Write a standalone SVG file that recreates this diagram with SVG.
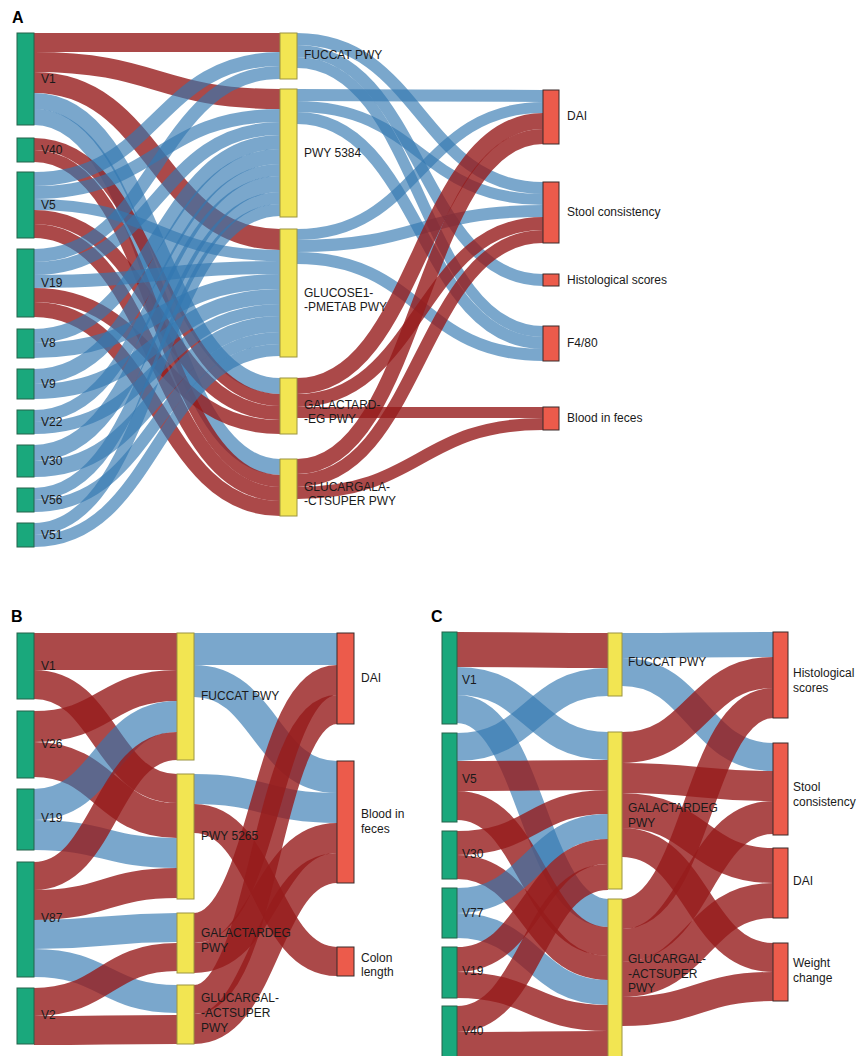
<svg xmlns="http://www.w3.org/2000/svg" width="858" height="1056" viewBox="0 0 858 1056">
<style>
.r{fill:none;stroke:#961c1c;stroke-opacity:0.8}
.b{fill:none;stroke:#3378b1;stroke-opacity:0.65}
.g{fill:#1aa87c;stroke:#24634a;stroke-width:1}
.y{fill:#f2e552;stroke:#9c9440;stroke-width:1}
.o{fill:#ec5b4b;stroke:#3a2a2a;stroke-width:1}
text{font-family:"Liberation Sans",Arial,sans-serif;font-size:12px;fill:#1a1a1a}
.p{font-size:16px;font-weight:bold;fill:#000}
</style>
<rect width="858" height="1056" fill="#fff"/>
<text class="p" x="12" y="23">A</text>
<text class="p" x="11" y="622">B</text>
<text class="p" x="431" y="622">C</text>
<g id="connectors">
<!-- Panel A left to middle -->
<path class="r" stroke-width="19" d="M34,42.5C157,42.5 157,42.5 280,42.5"/>
<path class="r" stroke-width="20" d="M34,62C157,62 157,99 280,99"/>
<path class="r" stroke-width="21" d="M34,82.5C157,82.5 157,239.5 280,239.5"/>
<path class="b" stroke-width="16" d="M34,101C157,101 157,386 280,386"/>
<path class="b" stroke-width="16" d="M34,117C157,117 157,467 280,467"/>
<path class="r" stroke-width="12" d="M34,144C157,144 157,400 280,400"/>
<path class="r" stroke-width="12" d="M34,156C157,156 157,481 280,481"/>
<path class="b" stroke-width="14" d="M34,179C157,179 157,59 280,59"/>
<path class="b" stroke-width="13" d="M34,192.5C157,192.5 157,115.5 280,115.5"/>
<path class="b" stroke-width="11" d="M34,204.5C157,204.5 157,255.5 280,255.5"/>
<path class="r" stroke-width="14" d="M34,217C157,217 157,413 280,413"/>
<path class="r" stroke-width="14" d="M34,231C157,231 157,494 280,494"/>
<path class="b" stroke-width="13" d="M34,255.5C157,255.5 157,72.5 280,72.5"/>
<path class="b" stroke-width="13" d="M34,268.5C157,268.5 157,128.5 280,128.5"/>
<path class="b" stroke-width="13" d="M34,281.5C157,281.5 157,267.5 280,267.5"/>
<path class="r" stroke-width="14" d="M34,295C157,295 157,427 280,427"/>
<path class="r" stroke-width="15" d="M34,309.5C157,309.5 157,508.5 280,508.5"/>
<path class="b" stroke-width="14" d="M34,336C157,336 157,142 280,142"/>
<path class="b" stroke-width="15" d="M34,350.5C157,350.5 157,281.5 280,281.5"/>
<path class="b" stroke-width="15" d="M34,376.5C157,376.5 157,156.5 280,156.5"/>
<path class="b" stroke-width="15" d="M34,391.5C157,391.5 157,296.5 280,296.5"/>
<path class="b" stroke-width="12" d="M34,416C157,416 157,170 280,170"/>
<path class="b" stroke-width="12" d="M34,428C157,428 157,310 280,310"/>
<path class="b" stroke-width="16" d="M34,453C157,453 157,184 280,184"/>
<path class="b" stroke-width="16" d="M34,469C157,469 157,324 280,324"/>
<path class="b" stroke-width="12" d="M34,494C157,494 157,198 280,198"/>
<path class="b" stroke-width="12" d="M34,506C157,506 157,338 280,338"/>
<path class="b" stroke-width="12" d="M34,529C157,529 157,210 280,210"/>
<path class="b" stroke-width="12" d="M34,541C157,541 157,350 280,350"/>
<!-- Panel A middle to right -->
<path class="b" stroke-width="12" d="M297,39C420,39 420,188 543,188"/>
<path class="b" stroke-width="12" d="M297,51C420,51 420,280 543,280"/>
<path class="b" stroke-width="11" d="M297,62.5C420,62.5 420,331.5 543,331.5"/>
<path class="b" stroke-width="12" d="M297,95C420,95 420,96 543,96"/>
<path class="b" stroke-width="11" d="M297,106.5C420,106.5 420,199.5 543,199.5"/>
<path class="b" stroke-width="12" d="M297,118C420,118 420,343 543,343"/>
<path class="b" stroke-width="11" d="M297,234.5C420,234.5 420,107.5 543,107.5"/>
<path class="b" stroke-width="12" d="M297,246C420,246 420,211 543,211"/>
<path class="b" stroke-width="12" d="M297,258C420,258 420,355 543,355"/>
<path class="r" stroke-width="16" d="M297,386C420,386 420,121 543,121"/>
<path class="r" stroke-width="13" d="M297,400.5C420,400.5 420,223.5 543,223.5"/>
<path class="r" stroke-width="11" d="M297,412.5C420,412.5 420,412.5 543,412.5"/>
<path class="r" stroke-width="15" d="M297,466.5C420,466.5 420,136.5 543,136.5"/>
<path class="r" stroke-width="13" d="M297,480.5C420,480.5 420,236.5 543,236.5"/>
<path class="r" stroke-width="12" d="M297,493C420,493 420,424 543,424"/>
<!-- Panel B left to middle -->
<path class="r" stroke-width="37" d="M34,651.5C105.5,651.5 105.5,651.5 177,651.5"/>
<path class="r" stroke-width="29" d="M34,684.5C105.5,684.5 105.5,788.5 177,788.5"/>
<path class="r" stroke-width="31" d="M34,726.5C105.5,726.5 105.5,685.5 177,685.5"/>
<path class="r" stroke-width="35" d="M34,759.5C105.5,759.5 105.5,820.5 177,820.5"/>
<path class="b" stroke-width="31" d="M34,804.5C105.5,804.5 105.5,716.5 177,716.5"/>
<path class="b" stroke-width="30" d="M34,835C105.5,835 105.5,853 177,853"/>
<path class="r" stroke-width="28" d="M34,876C105.5,876 105.5,746 177,746"/>
<path class="r" stroke-width="30" d="M34,905C105.5,905 105.5,883 177,883"/>
<path class="b" stroke-width="29" d="M34,934.5C105.5,934.5 105.5,927.5 177,927.5"/>
<path class="b" stroke-width="28" d="M34,963C105.5,963 105.5,999 177,999"/>
<path class="r" stroke-width="28" d="M34,1002C105.5,1002 105.5,957 177,957"/>
<path class="r" stroke-width="29" d="M34,1030.5C105.5,1030.5 105.5,1029.5 177,1029.5"/>
<!-- Panel B middle to right -->
<path class="b" stroke-width="32" d="M194,649C265.5,649 265.5,649 337,649"/>
<path class="b" stroke-width="32" d="M194,681C265.5,681 265.5,777 337,777"/>
<path class="b" stroke-width="30" d="M194,789C265.5,789 265.5,808 337,808"/>
<path class="r" stroke-width="29" d="M194,818.5C265.5,818.5 265.5,961.5 337,961.5"/>
<path class="r" stroke-width="30" d="M194,928C265.5,928 265.5,680 337,680"/>
<path class="r" stroke-width="30" d="M194,958C265.5,958 265.5,838 337,838"/>
<path class="r" stroke-width="29" d="M194,999.5C265.5,999.5 265.5,709.5 337,709.5"/>
<path class="r" stroke-width="30" d="M194,1029C265.5,1029 265.5,868 337,868"/>
<!-- Panel C left to middle -->
<path class="r" stroke-width="35" d="M457,649.5C532.5,649.5 532.5,650.5 608,650.5"/>
<path class="b" stroke-width="28" d="M457,681C532.5,681 532.5,746 608,746"/>
<path class="b" stroke-width="28" d="M457,709C532.5,709 532.5,913 608,913"/>
<path class="b" stroke-width="28" d="M457,747C532.5,747 532.5,682 608,682"/>
<path class="r" stroke-width="30" d="M457,776C532.5,776 532.5,775 608,775"/>
<path class="r" stroke-width="29" d="M457,805.5C532.5,805.5 532.5,941.5 608,941.5"/>
<path class="r" stroke-width="24" d="M457,843C532.5,843 532.5,802 608,802"/>
<path class="r" stroke-width="24" d="M457,867C532.5,867 532.5,968 608,968"/>
<path class="b" stroke-width="25" d="M457,900.5C532.5,900.5 532.5,826.5 608,826.5"/>
<path class="b" stroke-width="25" d="M457,925.5C532.5,925.5 532.5,992.5 608,992.5"/>
<path class="r" stroke-width="25" d="M457,959.5C532.5,959.5 532.5,851.5 608,851.5"/>
<path class="r" stroke-width="26" d="M457,985C532.5,985 532.5,1018 608,1018"/>
<path class="r" stroke-width="26" d="M457,1019C532.5,1019 532.5,877 608,877"/>
<path class="r" stroke-width="26" d="M457,1045C532.5,1045 532.5,1044 608,1044"/>
<!-- Panel C middle to right -->
<path class="b" stroke-width="25" d="M622,645.5C697.5,645.5 697.5,644.5 773,644.5"/>
<path class="b" stroke-width="28" d="M622,672C697.5,672 697.5,757 773,757"/>
<path class="r" stroke-width="31" d="M622,747.5C697.5,747.5 697.5,672.5 773,672.5"/>
<path class="r" stroke-width="30" d="M622,778C697.5,778 697.5,786 773,786"/>
<path class="r" stroke-width="35" d="M622,810.5C697.5,810.5 697.5,865.5 773,865.5"/>
<path class="r" stroke-width="29" d="M622,842.5C697.5,842.5 697.5,957.5 773,957.5"/>
<path class="r" stroke-width="30" d="M622,914C697.5,914 697.5,703 773,703"/>
<path class="r" stroke-width="33" d="M622,945.5C697.5,945.5 697.5,817.5 773,817.5"/>
<path class="r" stroke-width="35" d="M622,979.5C697.5,979.5 697.5,900.5 773,900.5"/>
<path class="r" stroke-width="29" d="M622,1011.5C697.5,1011.5 697.5,986.5 773,986.5"/>
</g>
<!-- Panel A nodes -->
<g id="a-v1"><rect class="g" x="17" y="33" width="17" height="92"/><text x="41" y="83">V1</text></g>
<g id="a-v40"><rect class="g" x="17" y="138" width="17" height="24"/><text x="41" y="154">V40</text></g>
<g id="a-v5"><rect class="g" x="17" y="172" width="17" height="66"/><text x="41" y="209">V5</text></g>
<g id="a-v19"><rect class="g" x="17" y="249" width="17" height="68"/><text x="41" y="287">V19</text></g>
<g id="a-v8"><rect class="g" x="17" y="329" width="17" height="29"/><text x="41" y="347">V8</text></g>
<g id="a-v9"><rect class="g" x="17" y="369" width="17" height="30"/><text x="41" y="388">V9</text></g>
<g id="a-v22"><rect class="g" x="17" y="410" width="17" height="24"/><text x="41" y="426">V22</text></g>
<g id="a-v30"><rect class="g" x="17" y="445" width="17" height="32"/><text x="41" y="465">V30</text></g>
<g id="a-v56"><rect class="g" x="17" y="488" width="17" height="24"/><text x="41" y="504">V56</text></g>
<g id="a-v51"><rect class="g" x="17" y="523" width="17" height="24"/><text x="41" y="539">V51</text></g>
<g id="a-fuccat"><rect class="y" x="280" y="33" width="17" height="46"/><text x="304" y="59">FUCCAT PWY</text></g>
<g id="a-pwy5384"><rect class="y" x="280" y="89" width="17" height="128"/><text x="304" y="157">PWY 5384</text></g>
<g id="a-glucose1"><rect class="y" x="280" y="229" width="17" height="128"/><text x="304" y="297">GLUCOSE1-</text><text x="304" y="311">-PMETAB PWY</text></g>
<g id="a-galactardeg"><rect class="y" x="280" y="378" width="17" height="56"/><text x="304" y="409">GALACTARD-</text><text x="304" y="423">-EG PWY</text></g>
<g id="a-glucargalactsuper"><rect class="y" x="280" y="459" width="17" height="57"/><text x="304" y="491">GLUCARGALA-</text><text x="304" y="505">-CTSUPER PWY</text></g>
<g id="a-dai"><rect class="o" x="543" y="90" width="16" height="54"/><text x="567" y="120">DAI</text></g>
<g id="a-stool"><rect class="o" x="543" y="182" width="16" height="61"/><text x="567" y="216">Stool consistency</text></g>
<g id="a-histo"><rect class="o" x="543" y="274" width="16" height="12"/><text x="567" y="284">Histological scores</text></g>
<g id="a-f480"><rect class="o" x="543" y="326" width="16" height="35"/><text x="567" y="347">F4/80</text></g>
<g id="a-blood"><rect class="o" x="543" y="407" width="16" height="23"/><text x="567" y="422">Blood in feces</text></g>
<!-- Panel B nodes -->
<g id="b-v1"><rect class="g" x="17" y="633" width="17" height="66"/><text x="41" y="670">V1</text></g>
<g id="b-v26"><rect class="g" x="17" y="711" width="17" height="67"/><text x="41" y="748">V26</text></g>
<g id="b-v19"><rect class="g" x="17" y="789" width="17" height="61"/><text x="41" y="822">V19</text></g>
<g id="b-v87"><rect class="g" x="17" y="862" width="17" height="115"/><text x="41" y="922">V87</text></g>
<g id="b-v2"><rect class="g" x="17" y="988" width="17" height="56"/><text x="41" y="1019">V2</text></g>
<g id="b-fuccat"><rect class="y" x="177" y="633" width="17" height="127"/><text x="201" y="700">FUCCAT PWY</text></g>
<g id="b-pwy5265"><rect class="y" x="177" y="774" width="17" height="125"/><text x="201" y="840">PWY 5265</text></g>
<g id="b-galactardeg"><rect class="y" x="177" y="913" width="17" height="60"/><text x="201" y="937">GALACTARDEG</text><text x="201" y="952">PWY</text></g>
<g id="b-glucargal"><rect class="y" x="177" y="985" width="17" height="59"/><text x="201" y="1002">GLUCARGAL-</text><text x="201" y="1017">-ACTSUPER</text><text x="201" y="1032">PWY</text></g>
<g id="b-dai"><rect class="o" x="337" y="633" width="17" height="91"/><text x="361" y="682">DAI</text></g>
<g id="b-blood"><rect class="o" x="337" y="761" width="17" height="122"/><text x="361" y="818">Blood in</text><text x="361" y="833">feces</text></g>
<g id="b-colon"><rect class="o" x="337" y="947" width="17" height="29"/><text x="361" y="962">Colon</text><text x="361" y="976">length</text></g>
<!-- Panel C nodes -->
<g id="c-v1"><rect class="g" x="442" y="632" width="15" height="92"/><text x="462" y="684">V1</text></g>
<g id="c-v5"><rect class="g" x="442" y="733" width="15" height="89"/><text x="462" y="783">V5</text></g>
<g id="c-v30"><rect class="g" x="442" y="831" width="15" height="48"/><text x="462" y="858">V30</text></g>
<g id="c-v77"><rect class="g" x="442" y="888" width="15" height="50"/><text x="462" y="917">V77</text></g>
<g id="c-v19"><rect class="g" x="442" y="947" width="15" height="51"/><text x="462" y="975">V19</text></g>
<g id="c-v40"><rect class="g" x="442" y="1006" width="15" height="54"/><text x="462" y="1035">V40</text></g>
<g id="c-fuccat"><rect class="y" x="608" y="633" width="14" height="63"/><text x="628" y="666">FUCCAT PWY</text></g>
<g id="c-galactardeg"><rect class="y" x="608" y="732" width="14" height="157"/><text x="628" y="812">GALACTARDEG</text><text x="628" y="827">PWY</text></g>
<g id="c-glucargal"><rect class="y" x="608" y="899" width="14" height="161"/><text x="628" y="963">GLUCARGAL-</text><text x="628" y="978">-ACTSUPER</text><text x="628" y="992">PWY</text></g>
<g id="c-histo"><rect class="o" x="773" y="632" width="15" height="86"/><text x="793" y="677">Histological</text><text x="793" y="692">scores</text></g>
<g id="c-stool"><rect class="o" x="773" y="743" width="15" height="92"/><text x="793" y="791">Stool</text><text x="793" y="806">consistency</text></g>
<g id="c-dai"><rect class="o" x="773" y="848" width="15" height="70"/><text x="793" y="885">DAI</text></g>
<g id="c-weight"><rect class="o" x="773" y="943" width="15" height="58"/><text x="793" y="967">Weight</text><text x="793" y="982">change</text></g>
</svg>
